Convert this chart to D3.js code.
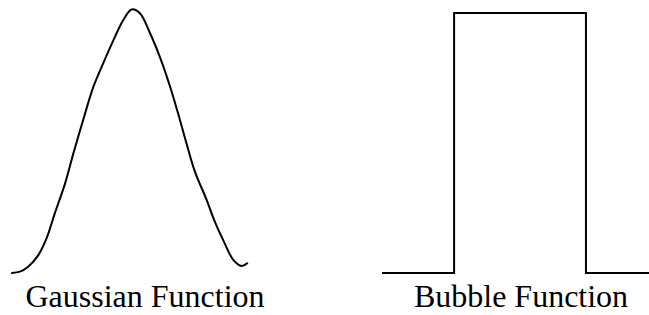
<!DOCTYPE html>
<html>
<head>
<meta charset="utf-8">
<script src="https://cdn.jsdelivr.net/npm/d3@7"></script>
<style>
  html, body { margin: 0; padding: 0; background: #fff; }
  svg { display: block; }
</style>
</head>
<body>
<svg id="chart" width="649" height="315"></svg>
<script>
// Gaussian curve (hand-drawn)
const gaussX = [-3.0, -2.80, -2.59, -2.33, -2.12, -1.91, -1.65, -1.44, -1.19, -0.93, -0.69, -0.42, -0.17, 0.04, 0.25, 0.51, 0.78, 1.02, 1.27, 1.44, 1.65, 1.95, 2.14, 2.39, 2.63, 2.84, 2.98];
const gaussY = [0.0, 0.005, 0.024, 0.068, 0.132, 0.227, 0.340, 0.454, 0.581, 0.707, 0.793, 0.884, 0.960, 1.0, 0.986, 0.910, 0.812, 0.707, 0.581, 0.490, 0.385, 0.277, 0.201, 0.118, 0.049, 0.027, 0.037];

// Bubble (step) function
const bubbleX = [0, 0.269, 0.269, 0.761, 0.761, 1];
const bubbleY = [0, 0, 1, 1, 0, 0];

const titles = ["Gaussian Function", "Bubble Function"];

const svg = d3.select("#chart");

// Left panel
const xG = d3.scaleLinear().domain([-3, 3]).range([12, 248]);
const yG = d3.scaleLinear().domain([0, 1]).range([273, 9.5]);
const gaussLine = d3.line()
  .x(d => xG(d[0])).y(d => yG(d[1]))
  .curve(d3.curveCatmullRom.alpha(0.5));
svg.append("path")
  .datum(gaussX.map((x, i) => [x, gaussY[i]]))
  .attr("d", gaussLine)
  .attr("fill", "none")
  .attr("stroke", "#000")
  .attr("stroke-width", 2)
  .attr("stroke-linecap", "round");

// Right panel
const xB = d3.scaleLinear().domain([0, 1]).range([382, 650]);
const yB = d3.scaleLinear().domain([0, 1]).range([273, 13]);
const bubbleLine = d3.line().x(d => xB(d[0])).y(d => yB(d[1]));
svg.append("path")
  .datum(bubbleX.map((x, i) => [x, bubbleY[i]]))
  .attr("d", bubbleLine)
  .attr("fill", "none")
  .attr("stroke", "#000")
  .attr("stroke-width", 2);

// Titles
const titleX = [xG(0) + 15, xB(0.5) + 5];
svg.selectAll("text.title")
  .data(titles)
  .enter().append("text")
  .attr("class", "title")
  .attr("x", (d, i) => titleX[i])
  .attr("y", 307)
  .attr("text-anchor", "middle")
  .attr("font-family", "'Liberation Serif', 'Times New Roman', serif")
  .attr("font-size", 32)
  .attr("fill", "#000")
  .text(d => d);
</script>
</body>
</html>
